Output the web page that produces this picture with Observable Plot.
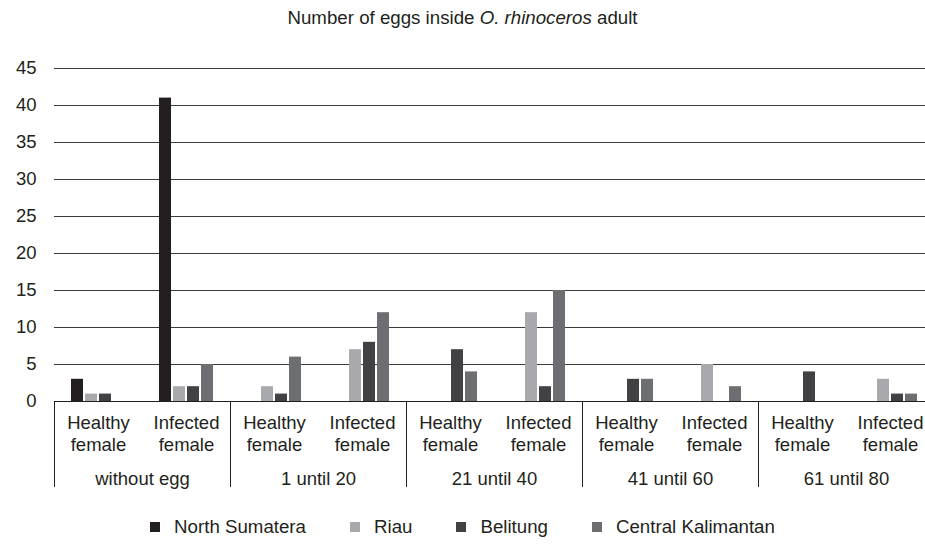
<!DOCTYPE html>
<html>
<head>
<meta charset="utf-8">
<script src="https://cdn.jsdelivr.net/npm/d3@7"></script>
<script src="https://cdn.jsdelivr.net/npm/@observablehq/plot@0.6"></script>
<style>
html, body { margin: 0; padding: 0; background: #fff; overflow: hidden; width: 925px; height: 544px; }
body { font-family: "Liberation Sans", Arial, sans-serif; color: #231f20; }
#title { height: 36px; line-height: 36px; text-align: center; font-size: 18.7px; white-space: nowrap; }
#chart { width: 925px; overflow: hidden; height: 470px; }
#chart svg { display: block; }
#legend { display: flex; justify-content: center; align-items: center; gap: 44px; font-size: 18.7px; height: 34px; padding-top: 4px; }
.item { display: flex; align-items: center; }
.sw { width: 10px; height: 10px; margin-right: 14px; }
</style>
</head>
<body>
<div id="title">Number of eggs inside <i>O. rhinoceros</i> adult</div>
<div id="chart"></div>
<div id="legend"></div>
<script>
const groups = ["without egg", "1 until 20", "21 until 40", "41 until 60", "61 until 80"];
const sexes = ["Healthy female", "Infected female"];
const series = ["North Sumatera", "Riau", "Belitung", "Central Kalimantan"];
const colors = ["#231f20", "#a7a9ac", "#414042", "#6d6e71"];
// values per category: without egg (H, I), 1-20 (H, I), 21-40 (H, I), 41-60 (H, I), 61-80 (H, I)
const northSumatera     = [3, 41, 0, 0, 0, 0,  0, 0, 0, 0];
const riau              = [1, 2,  2, 7, 0, 12, 0, 5, 0, 3];
const belitung          = [1, 2,  1, 8, 7, 2,  3, 0, 4, 1];
const centralKalimantan = [0, 5,  6, 12, 4, 15, 3, 2, 0, 1];
const yTicks = [0, 5, 10, 15, 20, 25, 30, 35, 40, 45];

const values = [northSumatera, riau, belitung, centralKalimantan];
const cats = groups.flatMap(g => sexes.map(s => g + "|" + s));
const rows = [];
cats.forEach((c, i) => series.forEach((s, j) => rows.push({cat: c, series: s, value: values[j][i]})));

const font = "'Liberation Sans', Arial, sans-serif";
const plot = Plot.plot({
  width: 935,
  height: 470,
  marginTop: 32,
  marginBottom: 105,
  marginLeft: 52,
  marginRight: 0,
  style: {fontFamily: font, fontSize: "18.5px", color: "#231f20", maxWidth: "none", overflow: "hidden", background: "#fff"},
  fx: {domain: cats, padding: 0, label: null},
  x: {domain: series, paddingInner: 0.133, paddingOuter: 1, axis: null},
  y: {domain: [0, 45], label: null},
  color: {domain: series, range: colors},
  marks: [
    Plot.ruleY(yTicks.filter(d => d > 0), {stroke: "#3a3a3a", strokeWidth: 1}),
    Plot.barY(rows, {fx: "cat", x: "series", y: "value", fill: "series"}),
    Plot.ruleY([0], {stroke: "#231f20", strokeWidth: 1}),
    Plot.axisY(yTicks, {tickSize: 0, tickPadding: 18, fontSize: 18.5, label: null, fill: "#231f20"}),
    Plot.axisFx({anchor: "bottom", tickSize: 0, tickPadding: 12, lineHeight: 1.2, fontSize: 18.5, label: null, fill: "#231f20",
      tickFormat: d => d.split("|")[1].replace(" ", "\n")}),
    Plot.text(groups, {fx: g => g + "|" + sexes[0], text: d => d, frameAnchor: "bottom-right", textAnchor: "middle", dy: 83, fontSize: 18.5, fill: "#231f20"})
  ]
});

// group dividers below the axis, placed with the plot's own fx and y scales
const fxs = plot.scale("fx"), ys = plot.scale("y");
const y0 = ys.apply(0);
const svg = d3.select(plot);
groups.forEach(g => {
  const x = Math.round(fxs.apply(g + "|" + sexes[0])) + 0.5;
  svg.append("line").attr("x1", x).attr("x2", x).attr("y1", y0).attr("y2", y0 + 86)
    .attr("stroke", "#231f20").attr("stroke-width", 1);
});

document.getElementById("chart").appendChild(plot);

const legend = document.getElementById("legend");
series.forEach((s, i) => {
  const item = document.createElement("div");
  item.className = "item";
  const sw = document.createElement("span");
  sw.className = "sw";
  sw.style.background = colors[i];
  item.appendChild(sw);
  item.appendChild(document.createTextNode(s));
  legend.appendChild(item);
});
</script>
</body>
</html>
